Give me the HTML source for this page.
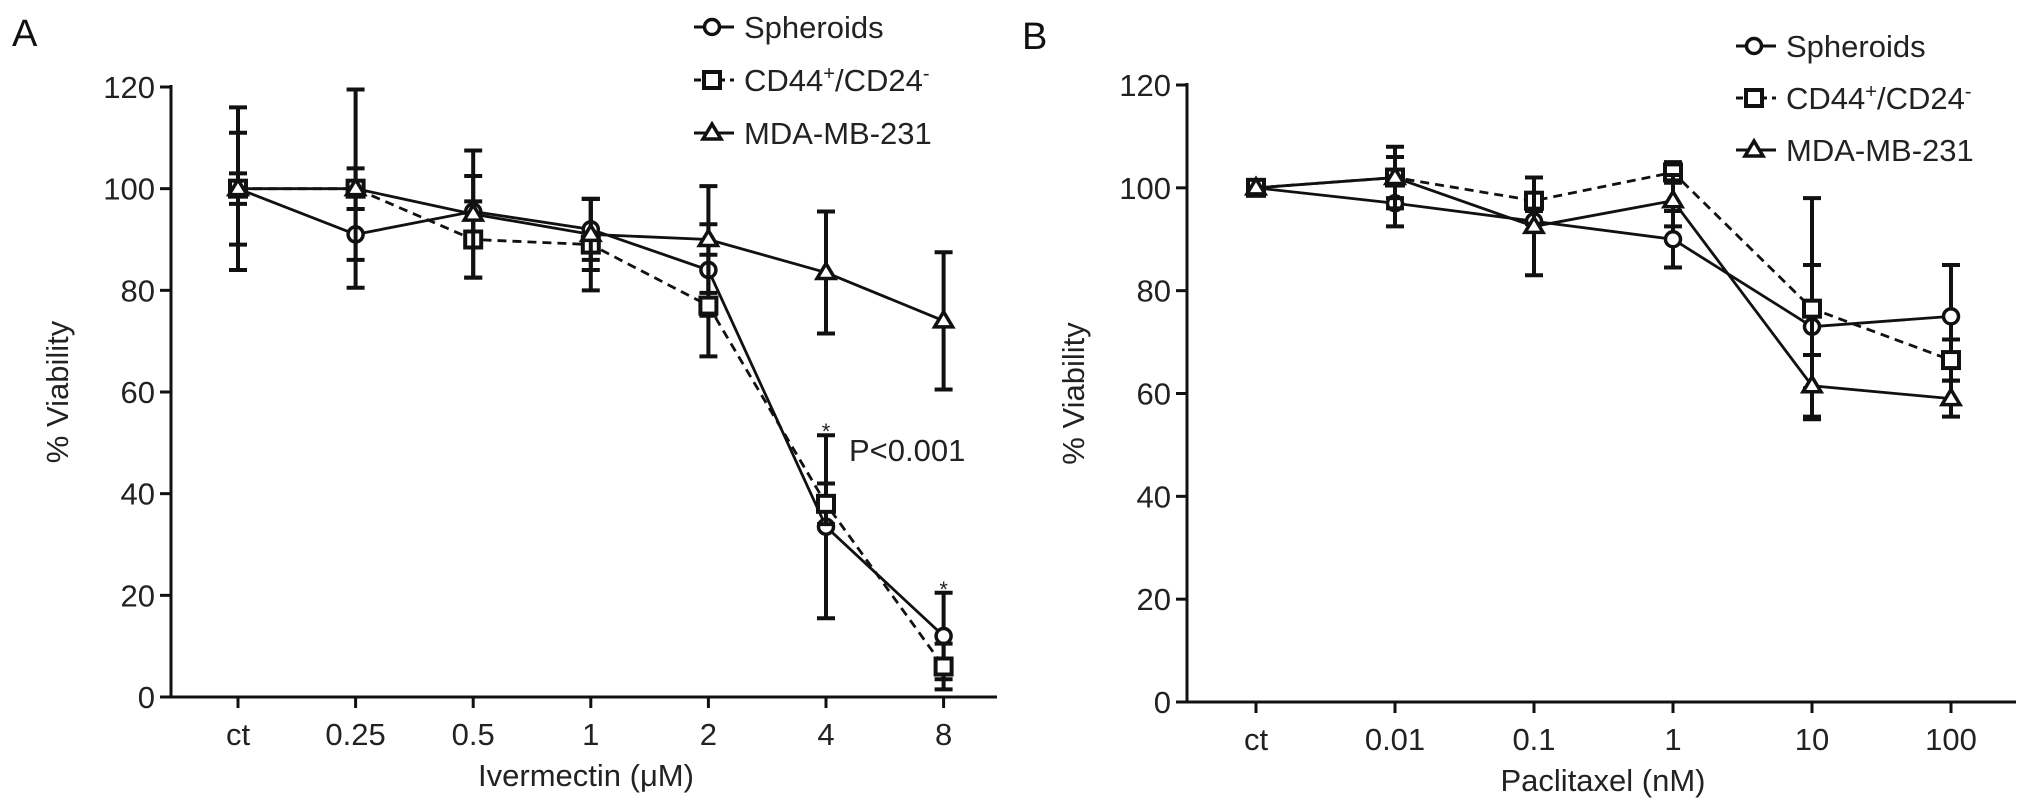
<!DOCTYPE html>
<html><head><meta charset="utf-8"><style>
html,body{margin:0;padding:0;background:#fff;}
svg{display:block;font-family:"Liberation Sans",sans-serif;}
</style></head><body>
<svg id="chart" width="2032" height="801" viewBox="0 0 2032 801" xmlns="http://www.w3.org/2000/svg"></svg>
<script>
// Panel A data
const catsA = ["ct","0.25","0.5","1","2","4","8"];
const sphA = [100, 91, 95.5, 92, 84, 33.5, 12];
const sphAErr = [11, 5, 7, 6, 9, 18, 8.5];
const cdA = [100, 100, 90, 89, 77, 38, 6];
const cdAErr = [16, 19.5, 7.5, 9, 10, 4, 4.5];
const mdaA = [100, 100, 95, 91, 90, 83.5, 74];
const mdaAErr = [3, 4, 12.5, 7, 10.5, 12, 13.5];
// Panel B data
const catsB = ["ct","0.01","0.1","1","10","100"];
const sphB = [100, 97, 93.5, 90, 73, 75];
const sphBErr = [0, 4.5, 2, 5.5, 12, 10];
const cdB = [100, 102, 97.5, 103, 76.5, 66.5];
const cdBErr = [0, 6, 4.5, 2, 21.5, 4];
const mdaB = [100, 102, 92.5, 97.5, 61.5, 59];
const mdaBErr = [0, 4, 9.5, 5, 6, 3.5];
const yTicks = [0,20,40,60,80,100,120];

const NS="http://www.w3.org/2000/svg";
const svg=document.getElementById('chart');
function mk(tag,attrs,parent){const e=document.createElementNS(NS,tag);for(const k in attrs)e.setAttribute(k,attrs[k]);(parent||svg).appendChild(e);return e;}

function panel(cfg){
  const g=mk('g',{});
  
  
  const yS=v=>cfg.y0+(cfg.y120-cfg.y0)*v/120;
  const xS=i=>cfg.x0+i*cfg.dx;
  const ya=mk('line',{x1:cfg.ax,y1:cfg.y120-2,x2:cfg.ax,y2:cfg.y0,stroke:'#111','stroke-width':3},g);
  
  
  const xa=mk('line',{x1:cfg.ax,y1:cfg.y0,x2:cfg.xend,y2:cfg.y0,stroke:'#111','stroke-width':3},g);
  
  
  yTicks.forEach(t=>{
    mk('line',{x1:cfg.ax-11,y1:yS(t),x2:cfg.ax,y2:yS(t),stroke:'#111','stroke-width':3},g);
    const tx=mk('text',{x:cfg.ax-16,y:yS(t)+11,'text-anchor':'end','font-size':31,fill:'#222'},g);
    tx.textContent=t;
    
    
  });
  cfg.cats.forEach((c,i)=>{
    mk('line',{x1:xS(i),y1:cfg.y0,x2:xS(i),y2:cfg.y0+11,stroke:'#111','stroke-width':3},g);
    const tx=mk('text',{x:xS(i),y:cfg.y0+48,'text-anchor':'middle','font-size':31,fill:'#222'},g);
    tx.textContent=c;
    
    
  });
  const yt=mk('text',{x:0,y:0,'text-anchor':'middle','font-size':31,fill:'#222',transform:`translate(${cfg.ax-103},${(cfg.y0+cfg.y120)/2}) rotate(-90)`},g);
  yt.textContent='% Viability';
  
  
  const xt=mk('text',{x:cfg.xtx,y:cfg.y0+89,'text-anchor':'middle','font-size':31,fill:'#222'},g);
  xt.textContent=cfg.xtitle;
  
  
  const lab=mk('text',{x:cfg.labx,y:cfg.laby,'font-size':38,fill:'#111'},g);
  lab.textContent=cfg.label;
  
  
  const series=[
    {name:'spheroids',vals:cfg.sph,err:cfg.sphE,dash:null,mark:'circle'},
    {name:'cd44-cd24',vals:cfg.cd,err:cfg.cdE,dash:'9 6',mark:'square'},
    {name:'mda-mb-231',vals:cfg.mda,err:cfg.mdaE,dash:null,mark:'triangle'}];
  function marker(type,x,y,par){
    let m;
    if(type==='circle') m=mk('circle',{cx:x,cy:y,r:7.5,fill:'#fff',stroke:'#111','stroke-width':3.5},par);
    else if(type==='square') m=mk('rect',{x:x-8,y:y-8,width:16,height:16,fill:'#fff',stroke:'#111','stroke-width':4},par);
    else m=mk('polygon',{points:`${x},${y-9} ${x-9},${y+6} ${x+9},${y+6}`,fill:'#fff',stroke:'#111','stroke-width':3.5},par);
    return m;
  }
  series.forEach(s=>{
    const sg=mk('g',{},g);
    
    
    s.vals.forEach((v,i)=>{
      if(s.err[i]>0){
        const t=yS(v+s.err[i]),b=yS(v-s.err[i]);
        mk('line',{x1:xS(i),y1:t,x2:xS(i),y2:b,stroke:'#111','stroke-width':4},sg);
        mk('line',{x1:xS(i)-9,y1:t,x2:xS(i)+9,y2:t,stroke:'#111','stroke-width':4},sg);
        mk('line',{x1:xS(i)-9,y1:b,x2:xS(i)+9,y2:b,stroke:'#111','stroke-width':4},sg);
      }
    });
    const pts=s.vals.map((v,i)=>xS(i)+','+yS(v)).join(' ');
    const pl=mk('polyline',{points:pts,fill:'none',stroke:'#111','stroke-width':2.8},sg);
    if(s.dash)pl.setAttribute('stroke-dasharray',s.dash);
    
    
    s.vals.forEach((v,i)=>{
      const m=marker(s.mark,xS(i),yS(v),sg);
      
      
    });
  });
  const lg=mk('g',{},g);
  
  
  const names=['Spheroids','CD44<tspan baseline-shift="super" font-size="20">+</tspan>/CD24<tspan baseline-shift="super" font-size="20">-</tspan>','MDA-MB-231'];
  series.forEach((s,k)=>{
    const y=cfg.legY+k*cfg.legDy;
    const e=mk('g',{},lg);
    
    
    const l=mk('line',{x1:cfg.legX,y1:y,x2:cfg.legX+40,y2:y,stroke:'#111','stroke-width':3},e);
    if(s.dash)l.setAttribute('stroke-dasharray','7 5');
    marker(s.mark,cfg.legX+18,y,e);
    const t=mk('text',{x:cfg.legX+50,y:y+11,'font-size':31,fill:'#222'},e);
    t.innerHTML=names[k];
  });
  return {g,xS,yS};
}

const A=panel({name:'panel-a',label:'A',labx:12,laby:46,ax:171,x0:238,dx:117.6,y0:697,y120:87,xend:997,cats:catsA,
  sph:sphA,sphE:sphAErr,cd:cdA,cdE:cdAErr,mda:mdaA,mdaE:mdaAErr,xtitle:'Ivermectin (\u03BCM)',xtx:586,legX:694,legY:27,legDy:53});
const B=panel({name:'panel-b',label:'B',labx:1022,laby:49,ax:1187,x0:1256,dx:139,y0:702,y120:85,xend:2016,cats:catsB,
  sph:sphB,sphE:sphBErr,cd:cdB,cdE:cdBErr,mda:mdaB,mdaE:mdaBErr,xtitle:'Paclitaxel (nM)',xtx:1603,legX:1736,legY:46,legDy:52});

[[5,51.5],[6,20.5]].forEach(([i,top])=>{
  const s=mk('text',{x:A.xS(i),y:A.yS(top)+4,'text-anchor':'middle','font-size':22,fill:'#222'});
  s.textContent='*';
  
  
});
const p=mk('text',{x:849,y:461,'font-size':31,fill:'#222'});
p.textContent='P<0.001';


</script>
</body></html>
